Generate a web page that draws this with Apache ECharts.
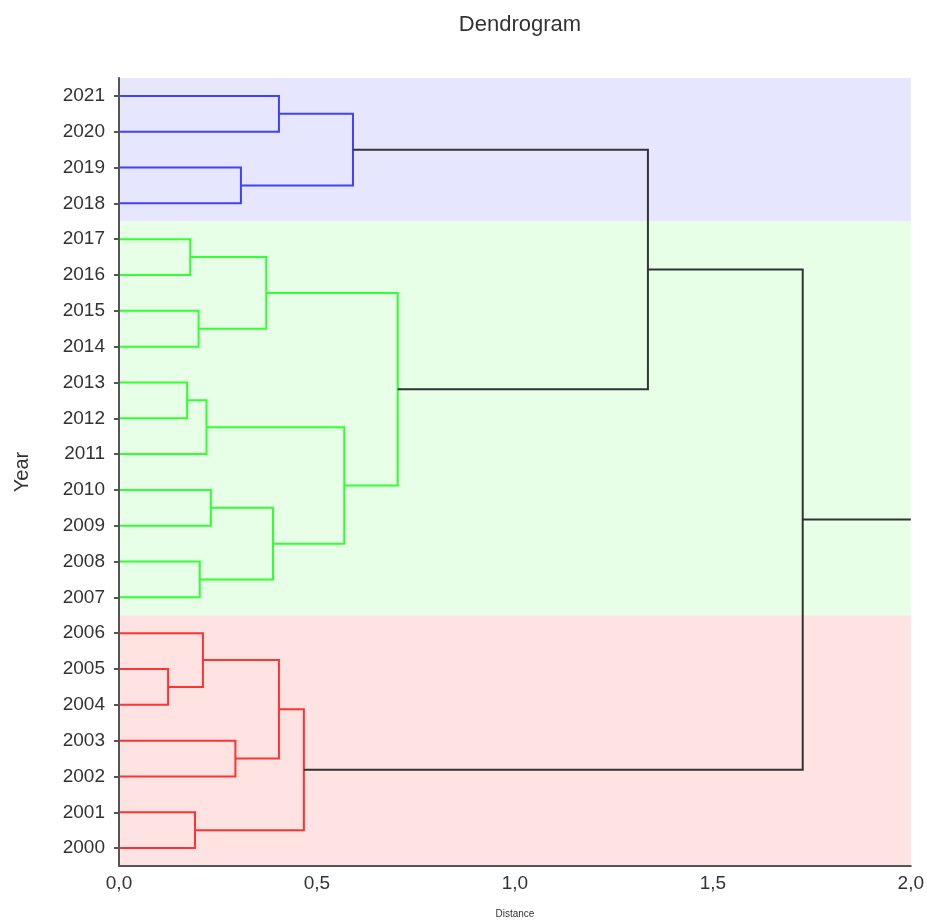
<!DOCTYPE html>
<html>
<head>
<meta charset="utf-8">
<script src="https://cdn.jsdelivr.net/npm/echarts@6/dist/echarts.min.js"></script>
<style>html,body{margin:0;padding:0;background:#fff}#c{width:927px;height:924px}</style>
</head>
<body>
<div id="c"></div>
<script>
// Leaves, bottom to top (index = position on the axis)
var years = ['2000','2001','2002','2003','2004','2005','2006','2007','2008','2009','2010',
             '2011','2012','2013','2014','2015','2016','2017','2018','2019','2020','2021'];
// Merges: ids 0..21 are leaves, merge k gets id 22+k
var mergeLeft  = [4, 6, 2, 23, 0, 25, 12, 11, 9, 7, 30, 29, 16, 14, 34, 33, 20, 18, 38, 37, 27];
var mergeRight = [5, 22, 3, 24, 1, 26, 13, 28, 10, 8, 31, 32, 17, 15, 35, 36, 21, 19, 39, 40, 41];
var mergeDist  = [0.124, 0.212, 0.294, 0.404, 0.192, 0.467, 0.172, 0.221, 0.232, 0.204, 0.389,
                  0.569, 0.180, 0.201, 0.372, 0.704, 0.404, 0.308, 0.591, 1.336, 1.727];
var mergeGroup = [0, 0, 0, 0, 0, 0, 1, 1, 1, 1, 1, 1, 1, 1, 1, 1, 2, 2, 2, 3, 3];
var rootEnd = 2.0;
// Cluster bands (leaf index ranges)
var bandStart = [0, 7, 18];
var bandEnd   = [6, 17, 21];
var groupLineColors = ['#ff3333', '#33ff33', '#4040ff', '#333333'];
var bandColors = ['#ffe2e2', '#e6ffe6', '#e6e6ff'];

var nLeaves = years.length;
var nodeX = [], nodeY = [];
for (var i = 0; i < nLeaves; i++) { nodeX.push(0); nodeY.push(i); }
var lineData = [];
for (var k = 0; k < mergeLeft.length; k++) {
  var a = mergeLeft[k], b = mergeRight[k], d = mergeDist[k];
  lineData.push({
    coords: [[nodeX[a], nodeY[a]], [d, nodeY[a]], [d, nodeY[b]], [nodeX[b], nodeY[b]]],
    lineStyle: { color: groupLineColors[mergeGroup[k]] }
  });
  nodeX.push(d); nodeY.push((nodeY[a] + nodeY[b]) / 2);
}
var rootId = nodeX.length - 1;
lineData.push({
  coords: [[nodeX[rootId], nodeY[rootId]], [rootEnd, nodeY[rootId]]],
  lineStyle: { color: groupLineColors[3] }
});

var bandData = [];
for (var j = 0; j < bandStart.length; j++) bandData.push([bandStart[j], bandEnd[j], j]);

var font = 'Liberation Sans, Arial, sans-serif';
var chart = echarts.init(document.getElementById('c'), null, { renderer: 'canvas' });
chart.setOption({
  animation: false,
  backgroundColor: '#ffffff',
  textStyle: { fontFamily: font },
  title: {
    text: 'Dendrogram', left: 515, textAlign: 'center', top: 9,
    textStyle: { fontFamily: font, fontSize: 22, fontWeight: 'normal', color: '#333' }
  },
  grid: { left: 119, right: 16, top: 78, bottom: 46, containLabel: false },
  xAxis: {
    type: 'value', min: 0, max: 2, interval: 0.5, z: 10,
    name: 'Distance', nameLocation: 'middle', nameGap: 43,
    nameTextStyle: { fontSize: 10, color: '#333', fontFamily: 'Liberation Sans Narrow, ' + font },
    axisLine: { show: true, onZero: false, lineStyle: { color: '#555', width: 2 } },
    axisTick: { show: false },
    splitLine: { show: false },
    axisLabel: {
      fontSize: 19, color: '#333', margin: 8, fontFamily: font,
      formatter: function (v) { return v.toFixed(1).replace('.', ','); }
    }
  },
  yAxis: [
    { type: 'value', min: -0.5, max: 21.5, show: false, position: 'left' },
    {
      type: 'category', data: years, boundaryGap: true, position: 'left', z: 10,
      name: 'Year', nameLocation: 'middle', nameGap: 87, nameRotate: 90,
      nameTextStyle: { fontSize: 20, color: '#333', fontFamily: font },
      axisLine: { show: true, lineStyle: { color: '#555', width: 2 } },
      axisTick: { show: true, alignWithLabel: true, length: 5, lineStyle: { color: '#555', width: 2 } },
      splitLine: { show: false },
      axisLabel: { fontSize: 19, color: '#333', margin: 14, fontFamily: font }
    }
  ],
  series: [
    {
      type: 'custom', coordinateSystem: 'cartesian2d', yAxisIndex: 0, z: 1, silent: true,
      data: bandData,
      renderItem: function (params, api) {
        var p1 = api.coord([0, api.value(1) + 0.5]);
        var p2 = api.coord([2, api.value(0) - 0.5]);
        return {
          type: 'rect',
          shape: { x: p1[0], y: p1[1], width: p2[0] - p1[0], height: p2[1] - p1[1] },
          style: { fill: bandColors[api.value(2)] }
        };
      }
    },
    {
      type: 'lines', coordinateSystem: 'cartesian2d', yAxisIndex: 0, polyline: true, z: 3,
      silent: true,
      lineStyle: { width: 2, opacity: 1 },
      data: lineData
    }
  ]
});
</script>
</body>
</html>
